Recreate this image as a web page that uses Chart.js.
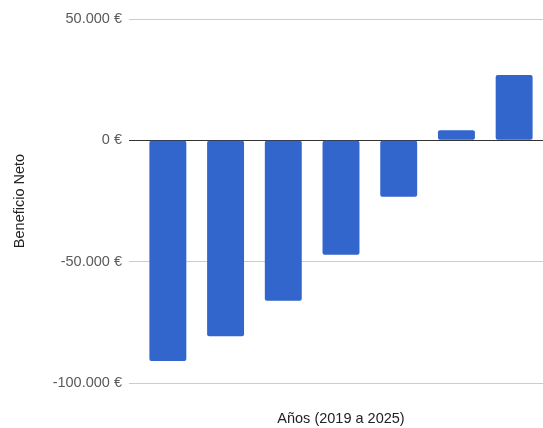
<!DOCTYPE html>
<html>
<head>
<meta charset="utf-8">
<script src="https://cdn.jsdelivr.net/npm/chart.js@4"></script>
<style>
  html, body { margin: 0; padding: 0; background: #fff; }
  #wrap { width: 543px; height: 428px; }
</style>
</head>
<body>
<div id="wrap"><canvas id="beneficioChart"></canvas></div>
<script>
// Data
const years = ['2019', '2020', '2021', '2022', '2023', '2024', '2025'];
const beneficioNeto = [-90900, -80700, -66100, -47200, -23300, 4200, 26900];
const yTicks = [-100000, -50000, 0, 50000];

// "-50.000 €" style labels
function formatEuro(value) {
    const sign = value < 0 ? '-' : '';
    const digits = String(Math.abs(value)).replace(/\B(?=(\d{3})+(?!\d))/g, '.');
    return sign + digits + ' €';
}

const fontFamily = '"Liberation Sans", Arial, sans-serif';

const ctx = document.getElementById('beneficioChart').getContext('2d');
new Chart(ctx, {
    type: 'bar',
    data: {
        labels: years,
        datasets: [{
            label: 'Beneficio Neto',
            data: beneficioNeto,
            backgroundColor: '#3366cc',
            borderRadius: 2,
            borderSkipped: false,
            barPercentage: 0.64,
            categoryPercentage: 1
        }]
    },
    options: {
        responsive: true,
        maintainAspectRatio: false,
        animation: false,
        layout: { padding: { top: 19, right: 0, bottom: 0, left: 0 } },
        plugins: {
            legend: { display: false },
            tooltip: { enabled: false }
        },
        scales: {
            x: {
                grid: { display: false },
                border: { display: false },
                ticks: { display: false },
                title: {
                    display: true,
                    text: 'Años (2019 a 2025)',
                    color: '#222',
                    font: { family: fontFamily, size: 14.5 },
                    padding: { top: 0, bottom: 0 }
                },
                afterFit: (scale) => { scale.height = 45; }
            },
            y: {
                min: -100000,
                max: 50000,
                afterBuildTicks: (scale) => {
                    scale.ticks = yTicks.map(v => ({ value: v }));
                },
                grid: {
                    color: (c) => c.tick && c.tick.value === 0 ? '#333' : '#ccc',
                    lineWidth: 1,
                    drawTicks: true,
                    tickLength: 10
                },
                border: { display: false },
                ticks: {
                    color: '#5a5a5a',
                    padding: 7,
                    font: { family: fontFamily, size: 14.5 },
                    callback: (value) => formatEuro(value)
                },
                title: {
                    display: true,
                    text: 'Beneficio Neto',
                    color: '#222',
                    font: { family: fontFamily, size: 14.5 },
                    padding: { top: 11, bottom: 0 }
                },
                afterFit: (scale) => { scale.width = 139; }
            }
        }
    }
});
</script>
</body>
</html>
